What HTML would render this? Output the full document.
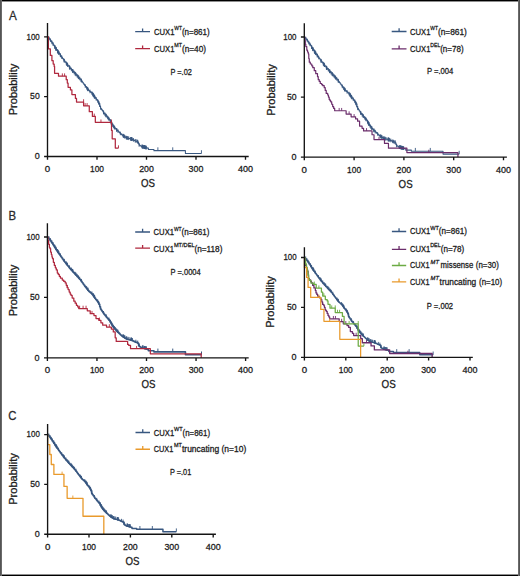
<!DOCTYPE html>
<html><head><meta charset="utf-8"><title>CUX1 survival</title>
<style>html,body{margin:0;padding:0;background:#fff;width:520px;height:576px;overflow:hidden}</style>
</head><body>
<svg width="520" height="576" viewBox="0 0 520 576" style="display:block">
<g font-family='"Liberation Sans", sans-serif' stroke-linejoin="round">
<rect x="0" y="0" width="520" height="576" fill="#ffffff"/>
<text x="9" y="19.6" font-size="13.3" textLength="7.8" lengthAdjust="spacingAndGlyphs" fill="#2a2a2a" stroke="#2a2a2a" stroke-width="0.28">A</text>
<text transform="translate(17.4,89.5) rotate(-90)" font-size="10.3" text-anchor="middle" textLength="51.5" lengthAdjust="spacingAndGlyphs" fill="#1c1c1c" stroke="#1c1c1c" stroke-width="0.28">Probability</text>
<text x="148" y="187.3" font-size="10.8" textLength="14" lengthAdjust="spacingAndGlyphs" text-anchor="middle" fill="#1c1c1c" stroke="#1c1c1c" stroke-width="0.28">OS</text>
<path d="M47.5,36.8H48.29V37.76H49.08V38.72H49.88V39.67H50.67V40.8H51.46V41.95H52.25V43.1H53.04V44.34H53.84V45.6H54.63V46.87H55.42V48.14H56.21V49.41H57V50.59H57.8V51.74H58.59V52.89H59.38V54.04H60.17V55.18H60.96V56.3H61.76V57.43H62.55V58.55H63.34V59.68H64.13V60.76H64.92V61.76H65.72V62.77H66.51V63.77H67.3V64.78H68.09V65.79H68.88V66.79H69.68V67.8H70.47V68.68H71.26V69.54H72.05V70.4H72.84V71.26H73.64V72.12H74.43V72.99H75.22V73.84H76.01V74.69H76.8V75.55H77.6V76.4H78.39V77.25H79.18V78.11H79.97V78.96H80.76V80H81.56V81.1H82.35V82.2H83.14V83.31H83.93V84.41H84.72V85.51H85.52V86.6H86.31V87.59H87.1V88.58H87.89V89.56H88.68V90.48H89.48V91.18H90.27V91.87H91.06V92.57H91.85V93.27H92.64V94.17H93.44V95.36H94.23V96.54H95.02V97.64H95.81V98.66H96.6V99.68H97.4V100.7H98.19V102H98.98V103.46H99.77V106.02H100.56V108.18H101.36V109.37H102.15V110.56H102.94V111.75H103.73V112.95H104.52V113.93H105.32V114.88H106.11V115.82H106.9V116.76H107.69V117.7H108.48V118.64H109.28V119.58H110.07V120.83H110.86V122.33H111.65V123.7H112.44V124.98H113.24V126.26H114.03V127.16H114.82V128.04H115.61V128.93H116.4V129.81H117.2V130.57H117.99V131.33H118.78V132.09H119.57V132.85H120.36V133.61H121.16V134.38H121.95V135.08H122.74V135.59H123.53V136.1H124.32V136.61H125.12V137.12H125.91V137.64H126.7V137.96H127.49V138.16H128.28V138.37H129.08V138.58H129.87V138.79H130.66V138.99H131.45V139.2H132.24V139.43H133.04V139.85H133.83V140.26H134.62V140.68H135.41V141.03H136.2V141.26H137V141.48H137.79V142.12H138.58V143.97H139.37V145.3H140.16V145.76H140.96V146.22H141.75V146.62H142.54V146.82H143.33V147.03H144.12V147.24H144.92V147.45H145.71V147.65H146.5V147.86H147.29V148.07H147.49V148.12H148.38V149.56H153.93V150.63H185.41V153.51H201.44" fill="none" stroke="#385780" stroke-width="1.05"/>
<path d="M93.1,96.45V92.85M103.57,114.3V110.7M139.11,146.75V143.15M94.39,98.38V94.78M98.51,104.19V100.59M106.26,117.6V114M66.99,65.99V62.39M98.9,104.92V101.32M110.41,123.08V119.48M126.31,139.45V135.85M58.16,53.87V50.27M78.57,79.05V75.45M57.83,53.38V49.78M127.94,139.88V136.28M116.61,131.6V128M53.07,45.98V42.38M144.76,149.01V145.41M143.06,148.56V144.96M112.75,127.08V123.48M109.01,120.87V117.27M64.34,62.63V59.03M50.45,42.08V38.48M100.51,109.7V106.1M54.79,48.74V45.14M67.53,66.68V63.08M72.58,72.57V68.97M51.92,44.21V40.61M94.23,98.13V94.53M91.94,94.95V91.35M131.13,140.72V137.12M99.61,107.01V103.41M111.42,124.93V121.33M97.72,102.73V99.13M113.58,128.27V124.67M93.58,97.17V93.57M76.11,76.4V72.8M146.27,149.4V145.8M146.08,149.35V145.75M130.92,140.66V137.06M118.01,132.95V129.35M79.73,80.3V76.7M71.38,71.27V67.67M77.17,77.54V73.94M55.83,50.4V46.8M123.71,137.82V134.22M88.03,91.34V87.74M131.54,140.82V137.22M86.68,89.65V86.05M142.41,148.39V144.79M131.61,140.84V137.24M49.04,40.26V36.66M69.44,69.09V65.49M137.75,143.63V140.03M94.82,98.98V95.38M144.58,148.96V145.36M87.74,90.97V87.37M56.11,50.84V47.24M110.37,123V119.4M124.9,138.59V134.99M75.29,75.52V71.92M57.48,52.88V49.28M81.42,82.51V78.91M143,148.54V144.94M122.91,137.3V133.7M60.49,57.23V53.63M73.01,73.04V69.44M58.84,54.85V51.25M54.83,48.79V45.19M126.71,139.56V135.96M66.31,65.12V61.52M103.52,114.23V110.63M92.62,95.73V92.13M67.58,66.73V63.13M120.36,135.21V131.61M61.76,59.03V55.43M111.76,125.47V121.87M60.35,57.02V53.42M90.01,93.25V89.65M69.74,69.48V65.88M75.29,75.52V71.92M143.67,148.72V145.12M127.33,139.72V136.12M78.64,79.13V75.53M135.27,142.58V138.98M69.53,69.21V65.61M87.43,90.59V86.99M132.3,141.06V137.46M111.57,125.18V121.58M58.77,54.75V51.15M145.46,149.19V145.59M69.78,69.53V65.93M74.17,74.31V70.71M124.33,138.22V134.62M81.06,82.02V78.42M77.88,78.31V74.71M56.14,50.9V47.3M57.77,53.3V49.7M105.81,117.06V113.46M72.68,72.69V69.09M107.62,119.22V115.62M85.23,87.82V84.22M93.18,96.57V92.97M142.52,148.42V144.82M96.16,100.7V97.1M105.01,116.12V112.52M133.48,141.68V138.08M66.81,65.76V62.16M64.02,62.21V58.61M137.57,143.25V139.65M128.73,140.09V136.49M116.78,131.77V128.17M114.42,129.19V125.59M136.18,142.85V139.25M144.14,148.84V145.24M114.68,129.49V125.89M144.53,148.94V145.34M141.83,148.24V144.64M130.8,140.63V137.03M123.59,137.74V134.14M111.01,124.22V120.62M108.43,120.18V116.58M145.02,149.07V145.47M157.88,150.63V147.33M172.74,150.63V147.33M201.44,153.51V150.21" fill="none" stroke="#385780" stroke-width="0.9"/>
<path d="M47.5,36.8H48.39V48.77H50.32V55.47H51.91V60.74H53.19V64.09H54.18V66.49H54.58V73.31H58.49V76.18H66.21V79.65H67.3V83.12H68.09V87.31H70.42V89.95H71.9V94.62H75.42V98.45H76.51V102.04H83.59V105.87H89.28V111.73H92.4V116.4H95.32V122.27H111.5V130.41H112.2V138.78H115.31V148.12H118.48" fill="none" stroke="#b0283e" stroke-width="1.25"/>
<path d="M62.35,76.18V73.38M64.58,76.18V73.38M83.59,102.04V99.24M85.12,105.87V103.07M87.1,105.87V103.07M94.28,116.4V113.6M100.96,122.27V119.47M111.5,122.27V119.47M118.48,148.12V145.32" fill="none" stroke="#b0283e" stroke-width="0.9"/>
<path d="M47.5,23V156.5H248.7M44.1,36.8H47.5M44.1,96.65H47.5M44.1,156.5H47.5M47.5,156.5V159.7M97,156.5V159.7M146.5,156.5V159.7M196,156.5V159.7M245.5,156.5V159.7" fill="none" stroke="#141414" stroke-width="1.35"/>
<text x="39.7" y="39.6" font-size="9.3" textLength="13.2" lengthAdjust="spacingAndGlyphs" text-anchor="end" fill="#1c1c1c" stroke="#1c1c1c" stroke-width="0.28">100</text>
<text x="39.7" y="99.45" font-size="9.3" textLength="9.6" lengthAdjust="spacingAndGlyphs" text-anchor="end" fill="#1c1c1c" stroke="#1c1c1c" stroke-width="0.28">50</text>
<text x="39.7" y="159.3" font-size="9.3" textLength="5" lengthAdjust="spacingAndGlyphs" text-anchor="end" fill="#1c1c1c" stroke="#1c1c1c" stroke-width="0.28">0</text>
<text x="47.5" y="171.9" font-size="9.0" textLength="5.4" lengthAdjust="spacingAndGlyphs" text-anchor="middle" fill="#1c1c1c" stroke="#1c1c1c" stroke-width="0.28">0</text>
<text x="97" y="171.9" font-size="9.0" textLength="14" lengthAdjust="spacingAndGlyphs" text-anchor="middle" fill="#1c1c1c" stroke="#1c1c1c" stroke-width="0.28">100</text>
<text x="146.5" y="171.9" font-size="9.0" textLength="14.6" lengthAdjust="spacingAndGlyphs" text-anchor="middle" fill="#1c1c1c" stroke="#1c1c1c" stroke-width="0.28">200</text>
<text x="196" y="171.9" font-size="9.0" textLength="14.8" lengthAdjust="spacingAndGlyphs" text-anchor="middle" fill="#1c1c1c" stroke="#1c1c1c" stroke-width="0.28">300</text>
<text x="245.5" y="171.9" font-size="9.0" textLength="15" lengthAdjust="spacingAndGlyphs" text-anchor="middle" fill="#1c1c1c" stroke="#1c1c1c" stroke-width="0.28">400</text>
<path d="M135.2,31.6H150M142.6,31.6V28.4" stroke="#385780" stroke-width="1.3" fill="none"/>
<path d="M135.2,48.6H150M142.6,48.6V45.4" stroke="#b0283e" stroke-width="1.3" fill="none"/>
<text x="154" y="35" font-size="8.5" textLength="20.4" lengthAdjust="spacingAndGlyphs" fill="#1c1c1c" stroke="#1c1c1c" stroke-width="0.28">CUX1</text>
<text x="174.3" y="30.4" font-size="6.0" textLength="7.7" lengthAdjust="spacingAndGlyphs" fill="#1c1c1c" stroke="#1c1c1c" stroke-width="0.28">WT</text>
<text x="181.9" y="35" font-size="8.5" textLength="27.8" lengthAdjust="spacingAndGlyphs" fill="#1c1c1c" stroke="#1c1c1c" stroke-width="0.28">(n=861)</text>
<text x="154" y="51.7" font-size="8.5" textLength="20.4" lengthAdjust="spacingAndGlyphs" fill="#1c1c1c" stroke="#1c1c1c" stroke-width="0.28">CUX1</text>
<text x="174.3" y="47.1" font-size="6.0" textLength="7.7" lengthAdjust="spacingAndGlyphs" fill="#1c1c1c" stroke="#1c1c1c" stroke-width="0.28">MT</text>
<text x="181.9" y="51.7" font-size="8.5" textLength="24.2" lengthAdjust="spacingAndGlyphs" fill="#1c1c1c" stroke="#1c1c1c" stroke-width="0.28">(n=40)</text>
<text x="170.4" y="74.8" font-size="8.5" textLength="21.5" lengthAdjust="spacingAndGlyphs" fill="#1c1c1c" stroke="#1c1c1c" stroke-width="0.28">P =.02</text>
<text transform="translate(274.7,90) rotate(-90)" font-size="10.3" text-anchor="middle" textLength="51.5" lengthAdjust="spacingAndGlyphs" fill="#1c1c1c" stroke="#1c1c1c" stroke-width="0.28">Probability</text>
<text x="405.6" y="187.6" font-size="10.8" textLength="14" lengthAdjust="spacingAndGlyphs" text-anchor="middle" fill="#1c1c1c" stroke="#1c1c1c" stroke-width="0.28">OS</text>
<path d="M304.3,37H305.1V37.96H305.89V38.92H306.69V39.88H307.49V41.01H308.28V42.16H309.08V43.32H309.88V44.56H310.67V45.83H311.47V47.11H312.27V48.38H313.06V49.65H313.86V50.84H314.66V51.99H315.46V53.14H316.25V54.29H317.05V55.44H317.85V56.57H318.64V57.7H319.44V58.83H320.24V59.95H321.03V61.04H321.83V62.05H322.63V63.06H323.42V64.06H324.22V65.07H325.02V66.08H325.81V67.09H326.61V68.1H327.41V68.98H328.2V69.85H329V70.71H329.8V71.58H330.59V72.44H331.39V73.31H332.19V74.17H332.98V75.02H333.78V75.88H334.58V76.73H335.38V77.59H336.17V78.45H336.97V79.3H337.77V80.34H338.56V81.45H339.36V82.56H340.16V83.66H340.95V84.77H341.75V85.87H342.55V86.97H343.34V87.96H344.14V88.95H344.94V89.94H345.73V90.86H346.53V91.56H347.33V92.26H348.12V92.96H348.92V93.65H349.72V94.57H350.51V95.75H351.31V96.94H352.11V98.04H352.9V99.06H353.7V100.09H354.5V101.11H355.3V102.41H356.09V103.89H356.89V106.45H357.69V108.62H358.48V109.82H359.28V111.01H360.08V112.21H360.87V113.4H361.67V114.39H362.47V115.34H363.26V116.28H364.06V117.23H364.86V118.17H365.65V119.11H366.45V120.06H367.25V121.31H368.04V122.82H368.84V124.19H369.64V125.47H370.43V126.75H371.23V127.66H372.03V128.55H372.82V129.43H373.62V130.32H374.42V131.08H375.22V131.84H376.01V132.61H376.81V133.37H377.61V134.14H378.4V134.91H379.2V135.61H380V136.12H380.79V136.63H381.59V137.15H382.39V137.66H383.18V138.17H383.98V138.49H384.78V138.7H385.57V138.91H386.37V139.12H387.17V139.33H387.96V139.54H388.76V139.74H389.56V139.98H390.35V140.39H391.15V140.81H391.95V141.23H392.74V141.57H393.54V141.8H394.34V142.03H395.14V142.67H395.93V144.53H396.73V145.86H397.53V146.32H398.32V146.79H399.12V147.18H399.92V147.39H400.71V147.6H401.51V147.81H402.31V148.02H403.1V148.22H403.9V148.43H404.7V148.64H404.9V148.69H405.79V150.13H411.37V151.22H443.04V154.1H459.18" fill="none" stroke="#385780" stroke-width="1.05"/>
<path d="M350.18,96.85V93.25M360.71,114.76V111.16M396.46,147.31V143.71M351.48,98.78V95.18M355.62,104.61V101.01M363.42,118.07V114.47M323.91,66.28V62.68M356.02,105.35V101.75M367.59,123.56V119.96M383.59,139.99V136.39M315.03,54.12V50.52M335.56,79.39V75.79M314.69,53.63V50.03M385.22,140.42V136.82M373.82,132.11V128.51M309.9,46.2V42.6M402.15,149.58V145.98M400.44,149.13V145.53M369.95,127.57V123.97M366.18,121.34V117.74M321.25,62.91V59.31M307.27,42.29V38.69M357.63,110.14V106.54M311.64,48.97V45.37M324.45,66.97V63.37M329.53,72.89V69.29M308.75,44.43V40.83M351.31,98.53V94.93M349.01,95.34V91.74M388.44,141.26V137.66M356.72,107.44V103.84M368.61,125.42V121.82M354.82,103.14V99.54M370.78,128.77V125.17M350.66,97.57V93.97M333.08,76.73V73.13M403.67,149.97V146.37M403.48,149.92V146.32M388.22,141.2V137.6M375.23,133.46V129.86M336.72,80.64V77.04M328.33,71.58V67.98M334.15,77.87V74.27M312.68,50.64V47.04M380.97,138.35V134.75M345.08,91.71V88.11M388.85,141.37V137.77M343.71,90.02V86.42M399.78,148.96V145.36M388.92,141.39V137.79M305.85,40.47V36.87M326.37,69.39V65.79M395.1,144.18V140.58M351.9,99.38V95.78M401.97,149.53V145.93M344.78,91.35V87.75M312.96,51.08V47.48M367.55,123.48V119.88M382.17,139.12V135.52M332.26,75.84V72.24M314.34,53.13V49.53M338.42,82.86V79.26M400.38,149.11V145.51M380.16,137.83V134.23M317.37,57.49V53.89M329.97,73.36V69.76M315.71,55.11V51.51M311.67,49.02V45.42M383.99,140.1V136.5M323.23,65.41V61.81M360.66,114.69V111.09M349.69,96.12V92.52M324.5,67.03V63.43M377.6,135.73V132.13M318.64,59.3V55.7M368.95,125.96V122.36M317.22,57.29V53.69M347.07,93.63V90.03M326.68,69.78V66.18M332.26,75.85V72.25M401.05,149.29V145.69M384.61,140.26V136.66M335.63,79.47V75.87M392.6,143.13V139.53M326.47,69.52V65.92M344.47,90.97V87.37M389.61,141.61V138.01M368.76,125.67V122.07M315.64,55V51.4M402.85,149.76V146.16M326.71,69.83V66.23M331.13,74.63V71.03M381.6,138.75V135.15M338.07,82.36V78.76M334.87,78.64V75.04M312.99,51.14V47.54M314.64,53.55V49.95M362.96,117.53V113.93M329.64,73V69.4M364.78,119.69V116.09M342.26,88.18V84.58M350.26,96.97V93.37M399.89,148.99V145.39M353.25,101.11V97.51M362.16,116.58V112.98M390.81,142.23V138.63M323.73,66.05V62.45M320.92,62.49V58.89M394.92,143.8V140.2M386.03,140.63V137.03M374,132.28V128.68M371.62,129.7V126.1M393.52,143.4V139.8M401.53,149.41V145.81M371.89,130V126.4M401.91,149.51V145.91M399.21,148.81V145.21M388.1,141.17V137.57M380.85,138.27V134.67M368.2,124.7V121.1M365.6,120.65V117.05M402.41,149.64V146.04M415.35,151.22V147.92M430.29,151.22V147.92M459.18,154.1V150.8" fill="none" stroke="#385780" stroke-width="0.9"/>
<path d="M304.3,37H304.8V40.6H305.3V44.21H305.79V46.61H306.79V50.21H307.54V52.01H308.28V53.81H308.78V58.62H309.28V62.22H310.28V64.02H311.77V65.82H312.77V67.63H314.26V70.63H315.75V73.63H317.5V76.63H318.24V79.64H319.24V81.44H320.24V83.48H321.73V84.68H322.73V85.64H324.22V87.68H325.22V90.44H326.21V93.45H327.71V95.01H328.45V97.05H329.2V99.45H329.95V100.65H330.69V101.85H331.69V104.26H332.69V106.66H333.68V108.46H334.68V110.74H346.13V114.1H351.11V116.87H355.59V118.91H357.59V121.19H359.58V126.11H362.07V128.28H363.56V130.92H372.03V134.76H374.02V139.57H384.48V143.41H388.46V148.21H406.89V152.54H457.93V157.1" fill="none" stroke="#6b2d6b" stroke-width="1.2"/>
<path d="M339.16,110.74V107.94M341.65,110.74V107.94M349.12,114.1V111.3M354.1,116.87V114.07M366.55,130.92V128.12M379,139.57V136.77M428.8,152.54V149.74" fill="none" stroke="#6b2d6b" stroke-width="0.9"/>
<path d="M304.3,23.25V157.1H506.9M300.9,37H304.3M300.9,97.05H304.3M300.9,157.1H304.3M304.3,157.1V160.3M354.1,157.1V160.3M403.9,157.1V160.3M453.7,157.1V160.3M503.5,157.1V160.3" fill="none" stroke="#141414" stroke-width="1.35"/>
<text x="296.5" y="39.8" font-size="9.3" textLength="13.2" lengthAdjust="spacingAndGlyphs" text-anchor="end" fill="#1c1c1c" stroke="#1c1c1c" stroke-width="0.28">100</text>
<text x="296.5" y="99.85" font-size="9.3" textLength="9.6" lengthAdjust="spacingAndGlyphs" text-anchor="end" fill="#1c1c1c" stroke="#1c1c1c" stroke-width="0.28">50</text>
<text x="296.5" y="159.9" font-size="9.3" textLength="5" lengthAdjust="spacingAndGlyphs" text-anchor="end" fill="#1c1c1c" stroke="#1c1c1c" stroke-width="0.28">0</text>
<text x="304.3" y="172.5" font-size="9.0" textLength="5.4" lengthAdjust="spacingAndGlyphs" text-anchor="middle" fill="#1c1c1c" stroke="#1c1c1c" stroke-width="0.28">0</text>
<text x="354.1" y="172.5" font-size="9.0" textLength="14" lengthAdjust="spacingAndGlyphs" text-anchor="middle" fill="#1c1c1c" stroke="#1c1c1c" stroke-width="0.28">100</text>
<text x="403.9" y="172.5" font-size="9.0" textLength="14.6" lengthAdjust="spacingAndGlyphs" text-anchor="middle" fill="#1c1c1c" stroke="#1c1c1c" stroke-width="0.28">200</text>
<text x="453.7" y="172.5" font-size="9.0" textLength="14.8" lengthAdjust="spacingAndGlyphs" text-anchor="middle" fill="#1c1c1c" stroke="#1c1c1c" stroke-width="0.28">300</text>
<text x="503.5" y="172.5" font-size="9.0" textLength="15" lengthAdjust="spacingAndGlyphs" text-anchor="middle" fill="#1c1c1c" stroke="#1c1c1c" stroke-width="0.28">400</text>
<path d="M391.7,31.5H406.5M399.1,31.5V28.3" stroke="#385780" stroke-width="1.3" fill="none"/>
<path d="M391.7,48.8H406.5M399.1,48.8V45.6" stroke="#6b2d6b" stroke-width="1.3" fill="none"/>
<text x="410" y="35" font-size="8.5" textLength="20.4" lengthAdjust="spacingAndGlyphs" fill="#1c1c1c" stroke="#1c1c1c" stroke-width="0.28">CUX1</text>
<text x="430.3" y="30.4" font-size="6.0" textLength="7.7" lengthAdjust="spacingAndGlyphs" fill="#1c1c1c" stroke="#1c1c1c" stroke-width="0.28">WT</text>
<text x="437.9" y="35" font-size="8.5" textLength="29" lengthAdjust="spacingAndGlyphs" fill="#1c1c1c" stroke="#1c1c1c" stroke-width="0.28">(n=861)</text>
<text x="410" y="51.7" font-size="8.5" textLength="20.4" lengthAdjust="spacingAndGlyphs" fill="#1c1c1c" stroke="#1c1c1c" stroke-width="0.28">CUX1</text>
<text x="430.3" y="47.1" font-size="6.0" textLength="10" lengthAdjust="spacingAndGlyphs" fill="#1c1c1c" stroke="#1c1c1c" stroke-width="0.28">DEL</text>
<text x="440.2" y="51.7" font-size="8.5" textLength="23.4" lengthAdjust="spacingAndGlyphs" fill="#1c1c1c" stroke="#1c1c1c" stroke-width="0.28">(n=78)</text>
<text x="426.9" y="74.4" font-size="8.5" textLength="26.4" lengthAdjust="spacingAndGlyphs" fill="#1c1c1c" stroke="#1c1c1c" stroke-width="0.28">P =.004</text>
<text x="8.6" y="220" font-size="12.7" textLength="7.6" lengthAdjust="spacingAndGlyphs" fill="#2a2a2a" stroke="#2a2a2a" stroke-width="0.28">B</text>
<text transform="translate(17.4,290.5) rotate(-90)" font-size="10.3" text-anchor="middle" textLength="51.5" lengthAdjust="spacingAndGlyphs" fill="#1c1c1c" stroke="#1c1c1c" stroke-width="0.28">Probability</text>
<text x="148.5" y="388.2" font-size="10.8" textLength="14" lengthAdjust="spacingAndGlyphs" text-anchor="middle" fill="#1c1c1c" stroke="#1c1c1c" stroke-width="0.28">OS</text>
<path d="M47.4,237H48.19V237.97H48.99V238.93H49.78V239.9H50.57V241.03H51.36V242.19H52.16V243.35H52.95V244.6H53.74V245.88H54.54V247.17H55.33V248.45H56.12V249.73H56.91V250.92H57.71V252.08H58.5V253.24H59.29V254.4H60.08V255.55H60.88V256.68H61.67V257.82H62.46V258.95H63.26V260.09H64.05V261.18H64.84V262.19H65.63V263.21H66.43V264.22H67.22V265.24H68.01V266.25H68.81V267.27H69.6V268.28H70.39V269.17H71.18V270.04H71.98V270.91H72.77V271.78H73.56V272.65H74.36V273.52H75.15V274.38H75.94V275.24H76.73V276.1H77.53V276.97H78.32V277.83H79.11V278.69H79.9V279.55H80.7V280.6H81.49V281.71H82.28V282.82H83.08V283.93H83.87V285.05H84.66V286.16H85.45V287.26H86.25V288.25H87.04V289.25H87.83V290.25H88.63V291.17H89.42V291.88H90.21V292.58H91V293.28H91.8V293.98H92.59V294.9H93.38V296.09H94.18V297.29H94.97V298.4H95.76V299.43H96.55V300.46H97.35V301.48H98.14V302.8H98.93V304.28H99.72V306.86H100.52V309.04H101.31V310.24H102.1V311.44H102.9V312.64H103.69V313.85H104.48V314.84H105.27V315.79H106.07V316.75H106.86V317.7H107.65V318.64H108.45V319.59H109.24V320.54H110.03V321.81H110.82V323.32H111.62V324.7H112.41V325.99H113.2V327.28H114V328.19H114.79V329.08H115.58V329.97H116.37V330.86H117.17V331.63H117.96V332.4H118.75V333.16H119.54V333.93H120.34V334.7H121.13V335.48H121.92V336.18H122.72V336.7H123.51V337.22H124.3V337.73H125.09V338.25H125.89V338.76H126.68V339.09H127.47V339.3H128.27V339.5H129.06V339.71H129.85V339.92H130.64V340.13H131.44V340.34H132.23V340.58H133.02V341H133.82V341.42H134.61V341.83H135.4V342.18H136.19V342.41H136.99V342.65H137.78V343.29H138.57V345.16H139.36V346.5H140.16V346.96H140.95V347.43H141.74V347.83H142.54V348.04H143.33V348.24H144.12V348.45H144.91V348.66H145.71V348.87H146.5V349.08H147.29V349.29H147.49V349.34H148.38V350.79H153.93V351.88H185.45V354.78H201.5" fill="none" stroke="#385780" stroke-width="1.6"/>
<path d="M93.04,296.19V292.99M103.53,314.2V311M139.1,346.94V343.74M94.34,298.14V294.94M98.46,303.99V300.79M106.22,317.53V314.33M66.91,265.44V262.24M98.86,304.73V301.53M110.37,323.05V319.85M126.29,339.58V336.38M58.07,253.21V250.01M78.5,278.63V275.43M57.74,252.72V249.52M127.92,340.01V336.81M116.58,331.66V328.46M52.97,245.24V242.04M144.76,349.22V346.02M143.06,348.77V345.57M112.72,327.09V323.89M108.97,320.82V317.62M64.26,262.05V258.85M50.35,241.31V238.11M100.46,309.56V306.36M54.7,248.03V244.83M67.45,266.14V262.94M72.5,272.09V268.89M51.82,243.47V240.27M94.17,297.88V294.68M91.89,294.67V291.47M131.12,340.86V337.66M99.56,306.84V303.64M111.39,324.93V321.73M97.67,302.52V299.32M113.55,328.29V325.09M93.53,296.91V293.71M76.04,275.95V272.75M146.27,349.62V346.42M146.08,349.57V346.37M130.9,340.8V337.6M117.98,333.01V329.81M79.66,279.88V276.68M71.3,270.77V267.57M77.1,277.1V273.9M55.74,249.71V246.51M123.69,337.93V334.73M87.97,291.02V287.82M131.52,340.97V337.77M86.62,289.32V286.12M142.4,348.6V345.4M131.6,340.98V337.78M48.94,239.48V236.28M69.36,268.57V265.37M137.74,343.8V340.6M94.76,298.73V295.53M144.58,349.18V345.98M87.68,290.66V287.46M56.02,250.16V246.96M110.33,322.97V319.77M124.88,338.71V335.51M75.22,275.06V271.86M57.39,252.22V249.02M81.35,282.11V278.91M142.99,348.76V345.56M122.88,337.41V334.21M60.4,256.6V253.4M72.94,272.56V269.36M58.75,254.2V251M54.73,248.08V244.88M126.69,339.69V336.49M66.23,264.57V261.37M129.03,340.31V337.11M124.6,338.52V335.32M114.42,329.27V326.07M135.87,342.92V339.72M112.05,326.01V322.81M132.38,341.26V338.06M111.48,325.08V321.88M123.54,337.84V334.64M115.3,330.25V327.05M117.55,332.6V329.4M145.35,349.38V346.18M138.71,346.07V342.87M157.9,351.88V348.58M172.76,351.88V348.58M201.5,354.78V351.48" fill="none" stroke="#385780" stroke-width="1.0"/>
<path d="M47.4,237H47.9V240.62H48.64V244.25H49.38V247.27H49.98V248.72H50.62V252.1H51.36V254.52H51.96V256.93H52.5V258.74H53.35V262.37H54.34V265.39H55.33V267.8H56.27V269.98H57.31V273H58.3V274.45H59.29V276.26H60.38V278.07H62.27V280H63.75V281.45H65.19V282.9H66.23V285.32H67.22V287.74H68.11V289.55H69.2V292.08H70.19V294.02H70.99V295.35H72.17V298H73.81V301.14H75.15V303.2H76.39V305.25H77.72V306.94H78.72V308.51H87.29V310.81H90.21V313.71H93.98V315.52H96.01V318.54H98.78V320.35H100.91V322.77H102.7V325.18H106.51V327H111.32V329.05H113.3V331.95H115.18V337.75H116.22V341.49H127.62V344.39H128.66V345.36H130.5V348.74H150.32V353.81H201.2V357.8" fill="none" stroke="#b0283e" stroke-width="1.25"/>
<path d="M67.22,287.74V284.94M79.61,308.51V305.71M83.08,308.51V305.71M86.05,308.51V305.71M92,313.71V310.91M99.43,320.35V317.55M109.34,327V324.2M136.59,348.74V345.94" fill="none" stroke="#b0283e" stroke-width="0.9"/>
<path d="M47.4,223.25V357.8H248.7M44,237H47.4M44,297.4H47.4M44,357.8H47.4M47.4,357.8V361M96.95,357.8V361M146.5,357.8V361M196.05,357.8V361M245.6,357.8V361" fill="none" stroke="#141414" stroke-width="1.35"/>
<text x="39.6" y="239.8" font-size="9.3" textLength="13.2" lengthAdjust="spacingAndGlyphs" text-anchor="end" fill="#1c1c1c" stroke="#1c1c1c" stroke-width="0.28">100</text>
<text x="39.6" y="300.2" font-size="9.3" textLength="9.6" lengthAdjust="spacingAndGlyphs" text-anchor="end" fill="#1c1c1c" stroke="#1c1c1c" stroke-width="0.28">50</text>
<text x="39.6" y="360.6" font-size="9.3" textLength="5" lengthAdjust="spacingAndGlyphs" text-anchor="end" fill="#1c1c1c" stroke="#1c1c1c" stroke-width="0.28">0</text>
<text x="47.4" y="373.2" font-size="9.0" textLength="5.4" lengthAdjust="spacingAndGlyphs" text-anchor="middle" fill="#1c1c1c" stroke="#1c1c1c" stroke-width="0.28">0</text>
<text x="96.95" y="373.2" font-size="9.0" textLength="14" lengthAdjust="spacingAndGlyphs" text-anchor="middle" fill="#1c1c1c" stroke="#1c1c1c" stroke-width="0.28">100</text>
<text x="146.5" y="373.2" font-size="9.0" textLength="14.6" lengthAdjust="spacingAndGlyphs" text-anchor="middle" fill="#1c1c1c" stroke="#1c1c1c" stroke-width="0.28">200</text>
<text x="196.05" y="373.2" font-size="9.0" textLength="14.8" lengthAdjust="spacingAndGlyphs" text-anchor="middle" fill="#1c1c1c" stroke="#1c1c1c" stroke-width="0.28">300</text>
<text x="245.6" y="373.2" font-size="9.0" textLength="15" lengthAdjust="spacingAndGlyphs" text-anchor="middle" fill="#1c1c1c" stroke="#1c1c1c" stroke-width="0.28">400</text>
<path d="M135.2,232H150M142.6,232V228.8" stroke="#385780" stroke-width="1.3" fill="none"/>
<path d="M135.2,248.1H150M142.6,248.1V244.9" stroke="#b0283e" stroke-width="1.3" fill="none"/>
<text x="153.6" y="235.2" font-size="8.5" textLength="20.4" lengthAdjust="spacingAndGlyphs" fill="#1c1c1c" stroke="#1c1c1c" stroke-width="0.28">CUX1</text>
<text x="173.9" y="230.6" font-size="6.0" textLength="7.7" lengthAdjust="spacingAndGlyphs" fill="#1c1c1c" stroke="#1c1c1c" stroke-width="0.28">WT</text>
<text x="181.5" y="235.2" font-size="8.5" textLength="27.9" lengthAdjust="spacingAndGlyphs" fill="#1c1c1c" stroke="#1c1c1c" stroke-width="0.28">(n=861)</text>
<text x="153.6" y="251.7" font-size="8.5" textLength="20.4" lengthAdjust="spacingAndGlyphs" fill="#1c1c1c" stroke="#1c1c1c" stroke-width="0.28">CUX1</text>
<text x="173.9" y="247.1" font-size="6.0" textLength="20.7" lengthAdjust="spacingAndGlyphs" fill="#1c1c1c" stroke="#1c1c1c" stroke-width="0.28">MT/DEL</text>
<text x="194.5" y="251.7" font-size="8.5" textLength="27.9" lengthAdjust="spacingAndGlyphs" fill="#1c1c1c" stroke="#1c1c1c" stroke-width="0.28">(n=118)</text>
<text x="170.5" y="274.6" font-size="8.5" textLength="30.2" lengthAdjust="spacingAndGlyphs" fill="#1c1c1c" stroke="#1c1c1c" stroke-width="0.28">P =.0004</text>
<text transform="translate(274.4,302) rotate(-90)" font-size="10.3" text-anchor="middle" textLength="51.5" lengthAdjust="spacingAndGlyphs" fill="#1c1c1c" stroke="#1c1c1c" stroke-width="0.28">Probability</text>
<text x="388.7" y="388.4" font-size="10.8" textLength="14.2" lengthAdjust="spacingAndGlyphs" text-anchor="middle" fill="#1c1c1c" stroke="#1c1c1c" stroke-width="0.28">OS</text>
<path d="M304.4,257.5H305.19V258.45H305.97V259.4H306.76V260.41H307.55V261.55H308.33V262.69H309.12V263.91H309.91V265.17H310.69V266.43H311.48V267.68H312.27V268.88H313.05V270.01H313.84V271.15H314.63V272.29H315.41V273.41H316.2V274.52H316.99V275.64H317.77V276.75H318.56V277.79H319.35V278.78H320.13V279.78H320.92V280.78H321.71V281.77H322.49V282.77H323.28V283.72H324.06V284.57H324.85V285.42H325.64V286.28H326.42V287.13H327.21V287.98H328V288.83H328.78V289.67H329.57V290.52H330.36V291.36H331.14V292.21H331.93V293.12H332.72V294.21H333.5V295.3H334.29V296.39H335.08V297.48H335.86V298.57H336.65V299.59H337.44V300.57H338.22V301.54H339.01V302.4H339.8V303.09H340.58V303.78H341.37V304.47H342.16V305.34H342.94V306.51H343.73V307.68H344.52V308.7H345.3V309.71H346.09V310.72H346.88V312.01H347.66V313.54H348.45V316.43H349.24V317.7H350.02V318.88H350.81V320.06H351.6V321.22H352.38V322.15H353.17V323.09H353.96V324.02H354.74V324.95H355.53V325.88H356.32V326.81H357.1V328.26H357.89V329.69H358.68V330.95H359.46V332.2H360.25V333.07H361.04V333.94H361.82V334.81H362.61V335.6H363.4V336.35H364.18V337.1H364.97V337.86H365.75V338.62H366.54V339.36H367.33V339.87H368.11V340.37H368.9V340.88H369.69V341.39H370.47V341.8H371.26V342H372.05V342.21H372.83V342.41H373.62V342.62H374.41V342.82H375.19V343.03H375.98V343.44H376.77V343.85H377.55V344.26H378.34V344.52H379.13V344.75H379.91V345.31H380.7V347.14H381.49V348.11H382.27V348.56H383.06V349.02H383.85V349.22H384.63V349.43H385.42V349.63H386.21V349.84H386.99V350.04H387.78V350.25H388.03V350.31H388.77V351.51H393.41V352.41H419.74V354.81H433.15" fill="none" stroke="#385780" stroke-width="1.4"/>
<path d="M342.54,306.5V303.3M351.3,321.38V318.18M381.02,348.44V345.24M343.62,308.11V304.91M347.06,312.95V309.75M353.55,324.14V320.94M320.7,281.1V277.9M347.39,313.56V310.36M357.01,328.7V325.5M370.32,342.35V339.15M313.32,271V267.8M330.39,291.99V288.79M313.04,270.59V267.39M371.67,342.71V339.51M362.2,335.81V332.61M309.06,264.42V261.22M385.75,350.32V347.12M384.33,349.95V346.75M358.97,332.03V328.83M355.85,326.86V323.66M318.49,278.3V275.1M306.87,261.17V257.97M348.74,317.55V314.35M310.5,266.72V263.52M321.16,281.68V278.48M325.37,286.59V283.39M308.1,262.95V259.75M343.48,307.9V304.7M341.57,305.25V302.05M374.35,343.41V340.21M347.98,315.31V312.11M357.86,330.25V327.05M346.4,311.73V308.53M359.67,333.03V329.83M342.94,307.1V303.9M328.33,289.78V286.58M387.01,350.65V347.45M386.85,350.61V347.41M374.17,343.36V340.16M363.37,336.93V333.73M331.36,293.03V289.83M324.37,285.5V282.3M329.22,290.74V287.54M311.37,268.11V264.91M368.14,340.99V337.79M338.3,302.24V299.04M374.69,343.5V340.3M337.17,300.83V297.63M383.78,349.8V346.6M374.75,343.51V340.31M305.69,259.65V256.45M322.75,283.69V280.49M379.88,345.84V342.64M343.97,308.61V305.41M385.6,350.28V347.08M338.06,301.93V298.73M311.6,268.47V265.27M356.98,328.63V325.43M369.14,341.63V338.43M327.64,289.05V285.85M312.75,270.18V266.98M332.77,294.88V291.68M384.27,349.93V346.73M367.47,340.56V337.36M315.27,273.8V270.6M325.74,286.98V283.78M313.88,271.82V268.62M310.53,266.76V263.56M370.65,342.44V339.24M320.13,280.38V277.18M372.6,342.95V339.75M368.9,341.48V338.28M360.4,333.83V330.63M378.32,345.11V341.91M358.42,331.14V327.94M375.4,343.74V340.54M357.94,330.37V327.17M368.02,340.91V337.71M361.13,334.65V331.45M363.02,336.59V333.39M386.24,350.45V347.25M380.69,347.72V344.52M396.72,352.41V349.11M409.14,352.41V349.11M433.15,354.81V351.5" fill="none" stroke="#385780" stroke-width="0.9"/>
<path d="M304.4,257.5H304.81V260.49H305.23V263.49H305.64V265.48H306.47V268.48H307.09V269.98H307.71V271.47H308.13V275.46H308.54V278.46H309.37V279.96H310.61V281.45H311.44V282.95H312.68V285.44H313.92V287.94H315.37V290.43H315.99V292.93H316.82V294.43H317.65V296.12H318.89V297.12H319.72V297.92H320.96V299.62H321.79V301.91H322.62V304.41H323.86V305.7H324.48V307.4H325.1V309.4H325.72V310.39H326.34V311.39H327.17V313.39H328V315.38H328.83V316.88H329.65V318.78H339.18V321.57H343.32V323.87H347.04V325.56H348.7V327.46H350.35V331.55H352.42V333.35H353.67V335.54H360.7V338.74H362.36V342.73H371.05V345.92H374.37V349.91H389.68V353.51H432.12V357.3" fill="none" stroke="#6b2d6b" stroke-width="1.3"/>
<path d="M333.38,318.78V315.98M335.45,318.78V315.98M341.66,321.57V318.77M345.8,323.87V321.07M356.15,335.54V332.74M366.5,342.73V339.93M407.9,353.51V350.71" fill="none" stroke="#6b2d6b" stroke-width="0.9"/>
<path d="M304.4,257.5H305.02V260.79H305.64V264.19H306.47V267.48H307.3V270.77H307.92V274.17H308.54V278.66H309.37V280.45H310.94V283.05H313.22V284.35H316.2V288.24H321.42V292.13H322.7V296.02H325.31V299.52H327.17V300.91H328V304.31H329.99V308.2H335.24V312.59H342.41V316.48H344.1V323.77H358.22V346.12H363.89" fill="none" stroke="#6cab44" stroke-width="1.25"/>
<path d="M314.34,284.35V281.55M318.89,288.24V285.44M323.86,296.02V293.22M331.72,308.2V305.4M335.24,308.2V305.4M337.52,312.59V309.79M339.59,312.59V309.79M349.11,323.77V320.97M358.22,323.77V320.97M363.89,346.12V343.32" fill="none" stroke="#6cab44" stroke-width="0.9"/>
<path d="M304.4,257.5H304.44V267.48H306.59V277.46H308.08V287.44H310.69V297.42H320.75V309.4H323.94V321.37H339.8V339.34H360.62V357.3" fill="none" stroke="#e99a2c" stroke-width="1.25"/>
<path d="M318.89,297.42V294.62M329.65,321.37V318.57" fill="none" stroke="#e99a2c" stroke-width="0.9"/>
<path d="M304.4,247.3V357.3H472.8M301,257.5H304.4M301,307.4H304.4M301,357.3H304.4M304.4,357.3V360.5M345.8,357.3V360.5M387.2,357.3V360.5M428.6,357.3V360.5M470,357.3V360.5" fill="none" stroke="#141414" stroke-width="1.35"/>
<text x="296.6" y="260.3" font-size="9.3" textLength="13.2" lengthAdjust="spacingAndGlyphs" text-anchor="end" fill="#1c1c1c" stroke="#1c1c1c" stroke-width="0.28">100</text>
<text x="296.6" y="310.2" font-size="9.3" textLength="9.6" lengthAdjust="spacingAndGlyphs" text-anchor="end" fill="#1c1c1c" stroke="#1c1c1c" stroke-width="0.28">50</text>
<text x="296.6" y="360.1" font-size="9.3" textLength="5" lengthAdjust="spacingAndGlyphs" text-anchor="end" fill="#1c1c1c" stroke="#1c1c1c" stroke-width="0.28">0</text>
<text x="304.4" y="372.7" font-size="9.0" textLength="5.4" lengthAdjust="spacingAndGlyphs" text-anchor="middle" fill="#1c1c1c" stroke="#1c1c1c" stroke-width="0.28">0</text>
<text x="345.8" y="372.7" font-size="9.0" textLength="14" lengthAdjust="spacingAndGlyphs" text-anchor="middle" fill="#1c1c1c" stroke="#1c1c1c" stroke-width="0.28">100</text>
<text x="387.2" y="372.7" font-size="9.0" textLength="14.6" lengthAdjust="spacingAndGlyphs" text-anchor="middle" fill="#1c1c1c" stroke="#1c1c1c" stroke-width="0.28">200</text>
<text x="428.6" y="372.7" font-size="9.0" textLength="14.8" lengthAdjust="spacingAndGlyphs" text-anchor="middle" fill="#1c1c1c" stroke="#1c1c1c" stroke-width="0.28">300</text>
<text x="470" y="372.7" font-size="9.0" textLength="15" lengthAdjust="spacingAndGlyphs" text-anchor="middle" fill="#1c1c1c" stroke="#1c1c1c" stroke-width="0.28">400</text>
<path d="M391.9,231.5H406.2M399.05,231.5V228.3" stroke="#385780" stroke-width="1.3" fill="none"/>
<path d="M391.9,249.3H406.2M399.05,249.3V246.1" stroke="#6b2d6b" stroke-width="1.3" fill="none"/>
<path d="M391.9,265.5H406.2M399.05,265.5V262.3" stroke="#6cab44" stroke-width="1.3" fill="none"/>
<path d="M391.9,281.8H406.2M399.05,281.8V278.6" stroke="#e99a2c" stroke-width="1.3" fill="none"/>
<text x="409.9" y="234.3" font-size="8.5" textLength="20.4" lengthAdjust="spacingAndGlyphs" fill="#1c1c1c" stroke="#1c1c1c" stroke-width="0.28">CUX1</text>
<text x="430.2" y="229.7" font-size="6.0" textLength="8.7" lengthAdjust="spacingAndGlyphs" fill="#1c1c1c" stroke="#1c1c1c" stroke-width="0.28">WT</text>
<text x="438.8" y="234.3" font-size="8.5" textLength="28.1" lengthAdjust="spacingAndGlyphs" fill="#1c1c1c" stroke="#1c1c1c" stroke-width="0.28">(n=861)</text>
<text x="409.9" y="251.8" font-size="8.5" textLength="20.4" lengthAdjust="spacingAndGlyphs" fill="#1c1c1c" stroke="#1c1c1c" stroke-width="0.28">CUX1</text>
<text x="430.2" y="247.2" font-size="6.0" textLength="10.6" lengthAdjust="spacingAndGlyphs" fill="#1c1c1c" stroke="#1c1c1c" stroke-width="0.28">DEL</text>
<text x="440.7" y="251.8" font-size="8.5" textLength="23.6" lengthAdjust="spacingAndGlyphs" fill="#1c1c1c" stroke="#1c1c1c" stroke-width="0.28">(n=78)</text>
<text x="409.9" y="268.3" font-size="8.5" textLength="19.6" lengthAdjust="spacingAndGlyphs" fill="#1c1c1c" stroke="#1c1c1c" stroke-width="0.28">CUX1</text>
<text x="430.6" y="263.6" font-size="6.0" textLength="8.4" lengthAdjust="spacingAndGlyphs" fill="#1c1c1c" stroke="#1c1c1c" stroke-width="0.28" font-style="italic">MT</text>
<text x="440.6" y="268.3" font-size="8.5" textLength="32.7" lengthAdjust="spacingAndGlyphs" fill="#1c1c1c" stroke="#1c1c1c" stroke-width="0.28">missense</text>
<text x="475.8" y="268.3" font-size="8.5" textLength="23" lengthAdjust="spacingAndGlyphs" fill="#1c1c1c" stroke="#1c1c1c" stroke-width="0.28">(n=30)</text>
<text x="409.9" y="284.9" font-size="8.5" textLength="19.6" lengthAdjust="spacingAndGlyphs" fill="#1c1c1c" stroke="#1c1c1c" stroke-width="0.28">CUX1</text>
<text x="430.6" y="280.2" font-size="6.0" textLength="8.4" lengthAdjust="spacingAndGlyphs" fill="#1c1c1c" stroke="#1c1c1c" stroke-width="0.28" font-style="italic">MT</text>
<text x="439.6" y="284.9" font-size="8.5" textLength="36.6" lengthAdjust="spacingAndGlyphs" fill="#1c1c1c" stroke="#1c1c1c" stroke-width="0.28">truncating</text>
<text x="479" y="284.9" font-size="8.5" textLength="23.1" lengthAdjust="spacingAndGlyphs" fill="#1c1c1c" stroke="#1c1c1c" stroke-width="0.28">(n=10)</text>
<text x="426.8" y="308.8" font-size="8.5" textLength="26.3" lengthAdjust="spacingAndGlyphs" fill="#1c1c1c" stroke="#1c1c1c" stroke-width="0.28">P =.002</text>
<text x="8.3" y="420.3" font-size="12.9" textLength="8.2" lengthAdjust="spacingAndGlyphs" fill="#2a2a2a" stroke="#2a2a2a" stroke-width="0.28">C</text>
<text transform="translate(17.4,479) rotate(-90)" font-size="10.3" text-anchor="middle" textLength="51.5" lengthAdjust="spacingAndGlyphs" fill="#1c1c1c" stroke="#1c1c1c" stroke-width="0.28">Probability</text>
<text x="132.4" y="565" font-size="10.8" textLength="14" lengthAdjust="spacingAndGlyphs" text-anchor="middle" fill="#1c1c1c" stroke="#1c1c1c" stroke-width="0.28">OS</text>
<path d="M47.6,434.6H48.39V435.55H49.17V436.49H49.96V437.51H50.75V438.64H51.53V439.78H52.32V441H53.11V442.26H53.89V443.51H54.68V444.76H55.47V445.95H56.25V447.09H57.04V448.23H57.83V449.36H58.61V450.48H59.4V451.59H60.19V452.7H60.97V453.81H61.76V454.85H62.55V455.84H63.33V456.84H64.12V457.83H64.91V458.82H65.69V459.82H66.48V460.76H67.26V461.62H68.05V462.47H68.84V463.32H69.62V464.17H70.41V465.02H71.2V465.87H71.98V466.71H72.77V467.55H73.56V468.39H74.34V469.24H75.13V470.14H75.92V471.23H76.7V472.32H77.49V473.41H78.28V474.5H79.06V475.59H79.85V476.6H80.64V477.58H81.42V478.56H82.21V479.41H83V480.1H83.78V480.79H84.57V481.48H85.36V482.34H86.14V483.51H86.93V484.68H87.72V485.7H88.5V486.71H89.29V487.71H90.08V489H90.86V490.53H91.65V493.41H92.44V494.68H93.22V495.85H94.01V497.03H94.8V498.19H95.58V499.12H96.37V500.06H97.16V500.99H97.94V501.92H98.73V502.84H99.52V503.77H100.3V505.22H101.09V506.64H101.88V507.91H102.66V509.15H103.45V510.02H104.24V510.89H105.02V511.76H105.81V512.54H106.6V513.29H107.38V514.04H108.17V514.8H108.95V515.55H109.74V516.3H110.53V516.8H111.31V517.31H112.1V517.81H112.89V518.32H113.67V518.73H114.46V518.93H115.25V519.14H116.03V519.34H116.82V519.55H117.61V519.75H118.39V519.96H119.18V520.37H119.97V520.78H120.75V521.19H121.54V521.44H122.33V521.67H123.11V522.23H123.9V524.06H124.69V525.02H125.47V525.48H126.26V525.93H127.05V526.14H127.83V526.34H128.62V526.55H129.41V526.75H130.19V526.96H130.98V527.16H131.23V527.23H131.97V528.42H136.61V529.32H162.94V531.71H176.35" fill="none" stroke="#385780" stroke-width="1.5"/>
<path d="M85.74,483.5V480.3M94.5,498.36V495.16M124.22,525.35V522.15M86.82,485.11V481.91M90.26,489.94V486.74M96.75,501.1V497.9M63.9,458.16V454.96M90.59,490.55V487.35M100.21,505.66V502.46M113.52,519.29V516.09M56.52,448.07V444.87M73.59,469.03V465.83M56.24,447.67V444.47M114.87,519.64V516.44M105.4,512.75V509.55M52.26,441.5V438.3M128.95,527.23V524.03M127.53,526.86V523.66M102.17,508.99V505.79M99.05,503.82V500.62M61.69,455.36V452.16M50.07,438.26V435.06M91.94,494.53V491.33M53.7,443.8V440.6M64.36,458.73V455.53M68.57,463.63V460.43M51.3,440.04V436.84M86.68,484.9V481.7M84.77,482.25V479.05M117.55,520.34V517.14M91.18,492.29V489.09M101.06,507.2V504M89.6,488.73V485.53M102.87,509.98V506.78M86.14,484.1V480.9M71.53,466.82V463.62M130.21,527.56V524.36M130.05,527.52V524.32M117.37,520.29V517.09M106.57,513.87V510.67M74.56,470.06V466.86M67.57,462.55V459.35M72.42,467.77V464.57M54.57,445.19V441.99M111.34,517.92V514.72M81.5,479.25V476.05M117.89,520.43V517.23M80.37,477.84V474.64M126.98,526.72V523.52M117.95,520.44V517.24M48.89,436.75V433.55M65.95,460.74V457.54M123.08,522.76V519.56M87.17,485.6V482.4M128.8,527.19V523.99M81.26,478.95V475.75M54.8,445.55V442.35M100.18,505.59V502.39M112.34,518.56V515.36M70.84,466.09V462.89M55.95,447.25V444.05M75.97,471.9V468.7M127.47,526.85V523.65M110.67,517.49V514.29M58.47,450.87V447.67M68.94,464.03V460.83M57.08,448.89V445.69M53.73,443.84V440.64M113.85,519.37V516.17M63.33,457.44V454.24M115.8,519.88V516.68M112.1,518.41V515.21M103.6,510.78V507.58M121.52,522.04V518.84M101.62,508.09V504.89M118.6,520.66V517.46M101.14,507.32V504.12M111.22,517.84V514.64M104.33,511.59V508.39M106.22,513.53V510.33M129.44,527.36V524.16M123.89,524.64V521.44M139.92,529.32V526.02M152.34,529.32V526.02M176.35,531.71V528.41" fill="none" stroke="#385780" stroke-width="0.9"/>
<path d="M47.6,434.6H47.64V444.56H49.79V454.52H51.28V464.48H53.89V474.44H63.95V486.39H67.14V498.34H83V516.27H103.82V534.2" fill="none" stroke="#e99a2c" stroke-width="1.3"/>
<path d="M62.09,474.44V471.64M72.85,498.34V495.54" fill="none" stroke="#e99a2c" stroke-width="0.9"/>
<path d="M47.6,424V534.2H215.9M44.2,434.6H47.6M44.2,484.4H47.6M44.2,534.2H47.6M47.6,534.2V537.4M89,534.2V537.4M130.4,534.2V537.4M171.8,534.2V537.4M213.2,534.2V537.4" fill="none" stroke="#141414" stroke-width="1.35"/>
<text x="39.8" y="437.4" font-size="9.3" textLength="13.2" lengthAdjust="spacingAndGlyphs" text-anchor="end" fill="#1c1c1c" stroke="#1c1c1c" stroke-width="0.28">100</text>
<text x="39.8" y="487.2" font-size="9.3" textLength="9.6" lengthAdjust="spacingAndGlyphs" text-anchor="end" fill="#1c1c1c" stroke="#1c1c1c" stroke-width="0.28">50</text>
<text x="39.8" y="537" font-size="9.3" textLength="5" lengthAdjust="spacingAndGlyphs" text-anchor="end" fill="#1c1c1c" stroke="#1c1c1c" stroke-width="0.28">0</text>
<text x="47.6" y="549.6" font-size="9.0" textLength="5.4" lengthAdjust="spacingAndGlyphs" text-anchor="middle" fill="#1c1c1c" stroke="#1c1c1c" stroke-width="0.28">0</text>
<text x="89" y="549.6" font-size="9.0" textLength="14" lengthAdjust="spacingAndGlyphs" text-anchor="middle" fill="#1c1c1c" stroke="#1c1c1c" stroke-width="0.28">100</text>
<text x="130.4" y="549.6" font-size="9.0" textLength="14.6" lengthAdjust="spacingAndGlyphs" text-anchor="middle" fill="#1c1c1c" stroke="#1c1c1c" stroke-width="0.28">200</text>
<text x="171.8" y="549.6" font-size="9.0" textLength="14.8" lengthAdjust="spacingAndGlyphs" text-anchor="middle" fill="#1c1c1c" stroke="#1c1c1c" stroke-width="0.28">300</text>
<text x="213.2" y="549.6" font-size="9.0" textLength="15" lengthAdjust="spacingAndGlyphs" text-anchor="middle" fill="#1c1c1c" stroke="#1c1c1c" stroke-width="0.28">400</text>
<path d="M135.5,432.5H150M142.75,432.5V429.3" stroke="#385780" stroke-width="1.3" fill="none"/>
<path d="M135.5,449.25H150M142.75,449.25V446.05" stroke="#e99a2c" stroke-width="1.3" fill="none"/>
<text x="153.75" y="435.5" font-size="8.5" textLength="20.4" lengthAdjust="spacingAndGlyphs" fill="#1c1c1c" stroke="#1c1c1c" stroke-width="0.28">CUX1</text>
<text x="174.05" y="430.9" font-size="6.0" textLength="8.6" lengthAdjust="spacingAndGlyphs" fill="#1c1c1c" stroke="#1c1c1c" stroke-width="0.28">WT</text>
<text x="182.55" y="435.5" font-size="8.5" textLength="27.5" lengthAdjust="spacingAndGlyphs" fill="#1c1c1c" stroke="#1c1c1c" stroke-width="0.28">(n=861)</text>
<text x="153.75" y="452" font-size="8.5" textLength="19.6" lengthAdjust="spacingAndGlyphs" fill="#1c1c1c" stroke="#1c1c1c" stroke-width="0.28">CUX1</text>
<text x="174" y="447.4" font-size="6.0" textLength="7.9" lengthAdjust="spacingAndGlyphs" fill="#1c1c1c" stroke="#1c1c1c" stroke-width="0.28">MT</text>
<text x="182" y="452" font-size="8.5" textLength="64.2" lengthAdjust="spacingAndGlyphs" fill="#1c1c1c" stroke="#1c1c1c" stroke-width="0.28">truncating (n=10)</text>
<text x="170" y="475" font-size="8.5" textLength="21.25" lengthAdjust="spacingAndGlyphs" fill="#1c1c1c" stroke="#1c1c1c" stroke-width="0.28">P =.01</text>
<rect x="0" y="1" width="520" height="1" fill="#8e8e8e"/>
<rect x="0" y="574" width="520" height="1" fill="#8e8e8e"/>
<rect x="0" y="0" width="520" height="1" fill="#000"/>
<rect x="0" y="575" width="520" height="1" fill="#000"/>
<rect x="1" y="0" width="1" height="576" fill="#6a6a6a"/>
<rect x="518" y="0" width="1" height="576" fill="#6a6a6a"/>
<rect x="0" y="0" width="1" height="576" fill="#555"/>
<rect x="519" y="0" width="1" height="576" fill="#555"/>
</g></svg>
</body></html>
